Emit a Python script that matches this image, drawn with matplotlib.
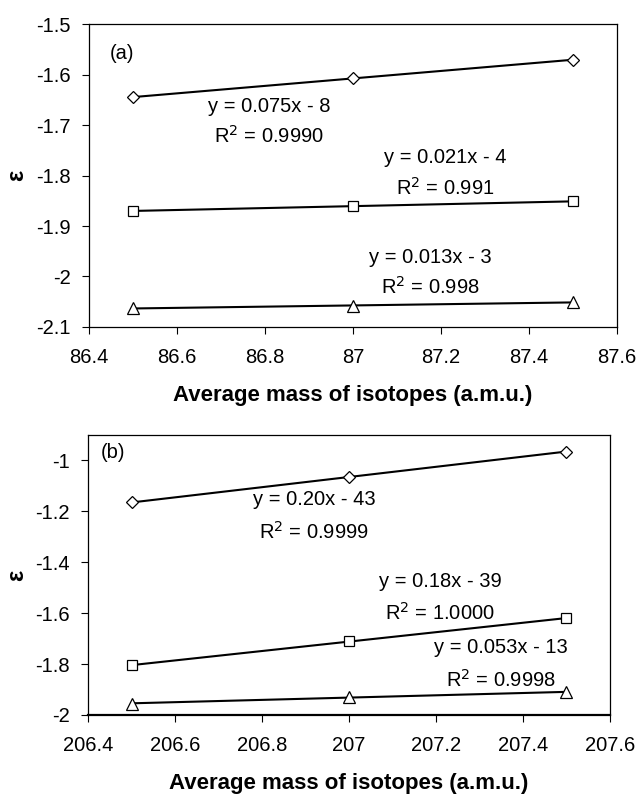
import numpy as np
import matplotlib
matplotlib.use("Agg")
import matplotlib.pyplot as plt

plt.rcParams['font.family'] = ['Liberation Sans', 'DejaVu Sans']

# panel (a)
mass_a = [86.5, 87.0, 87.5]
diam_a = [-1.645, -1.607, -1.571]
sq_a = [-1.870, -1.861, -1.851]
tri_a = [-2.063, -2.058, -2.051]
eq_a = [("y = 0.075x - 8", "R$^2$ = 0.9990"),
        ("y = 0.021x - 4", "R$^2$ = 0.991"),
        ("y = 0.013x - 3", "R$^2$ = 0.998")]
eqpos_a = [(86.81, -1.664, -1.722), (87.21, -1.765, -1.825), (87.175, -1.963, -2.021)]

# panel (b)
mass_b = [206.5, 207.0, 207.5]
diam_b = [-1.165, -1.065, -0.965]
sq_b = [-1.805, -1.710, -1.620]
tri_b = [-1.955, -1.930, -1.910]
eq_b = [("y = 0.20x - 43", "R$^2$ = 0.9999"),
        ("y = 0.18x - 39", "R$^2$ = 1.0000"),
        ("y = 0.053x - 13", "R$^2$ = 0.9998")]
eqpos_b = [(206.92, -1.154, -1.28), (207.21, -1.476, -1.598), (207.35, -1.736, -1.862)]

fig = plt.figure(figsize=(6.38, 8.02), dpi=100)
ax1 = fig.add_axes([0.1395, 0.5923, 0.8275, 0.3777])
ax2 = fig.add_axes([0.138, 0.1085, 0.818, 0.3491])

FS = 14.5


def draw(ax, x, series, eqs, eqpos, label, lpos, ylx):
    for ys, m, ms in zip(series, ['D', 's', '^'], [6.5, 7.5, 8.5]):
        ax.plot(x, ys, linestyle='none', marker=m, ms=ms, mfc='white',
                mec='black', mew=0.9, zorder=3)
        k, b = np.polyfit(x, ys, 1)
        xx = np.array([x[0], x[-1]])
        ax.plot(xx, k * xx + b, color='black', lw=1.5, zorder=2)
    for (e, r), (px, py1, py2) in zip(eqs, eqpos):
        ax.text(px, py1, e, ha='center', va='center', fontsize=FS)
        ax.text(px, py2, r, ha='center', va='center', fontsize=FS)
    ax.text(lpos[0], lpos[1], label, transform=ax.transAxes, fontsize=FS,
            ha='left', va='center')
    ax.set_ylabel('ε', fontsize=17, fontweight='bold', rotation=90)
    ax.yaxis.set_label_coords(ylx, 0.5)
    ax.set_xlabel('Average mass of isotopes (a.m.u.)', fontsize=16,
                  fontweight='bold', labelpad=13)
    ax.tick_params(direction='out', labelsize=FS, length=5, width=0.8)
    ax.tick_params(axis='x', pad=10)
    ax.tick_params(axis='y', pad=8)
    for s in ax.spines.values():
        s.set_linewidth(0.9)


draw(ax1, mass_a, [diam_a, sq_a, tri_a], eq_a, eqpos_a, '(a)', (0.04, 0.904), -0.115)
ax1.set_xlim(86.4, 87.6)
ax1.set_ylim(-2.1, -1.5)
ax1.set_xticks([86.4, 86.6, 86.8, 87.0, 87.2, 87.4, 87.6])
ax1.set_xticklabels(['86.4', '86.6', '86.8', '87', '87.2', '87.4', '87.6'])
ax1.set_yticks([-2.1, -2.0, -1.9, -1.8, -1.7, -1.6, -1.5])
ax1.set_yticklabels(['-2.1', '-2', '-1.9', '-1.8', '-1.7', '-1.6', '-1.5'])

draw(ax2, mass_b, [diam_b, sq_b, tri_b], eq_b, eqpos_b, '(b)', (0.025, 0.936), -0.115)
ax2.set_xlim(206.4, 207.6)
ax2.set_ylim(-2.0, -0.9)
ax2.set_xticks([206.4, 206.6, 206.8, 207.0, 207.2, 207.4, 207.6])
ax2.set_xticklabels(['206.4', '206.6', '206.8', '207', '207.2', '207.4', '207.6'])
ax2.set_yticks([-2.0, -1.8, -1.6, -1.4, -1.2, -1.0])
ax2.set_yticklabels(['-2', '-1.8', '-1.6', '-1.4', '-1.2', '-1'])
ax2.spines['bottom'].set_linewidth(1.6)

fig.savefig('out.png', dpi=100)
